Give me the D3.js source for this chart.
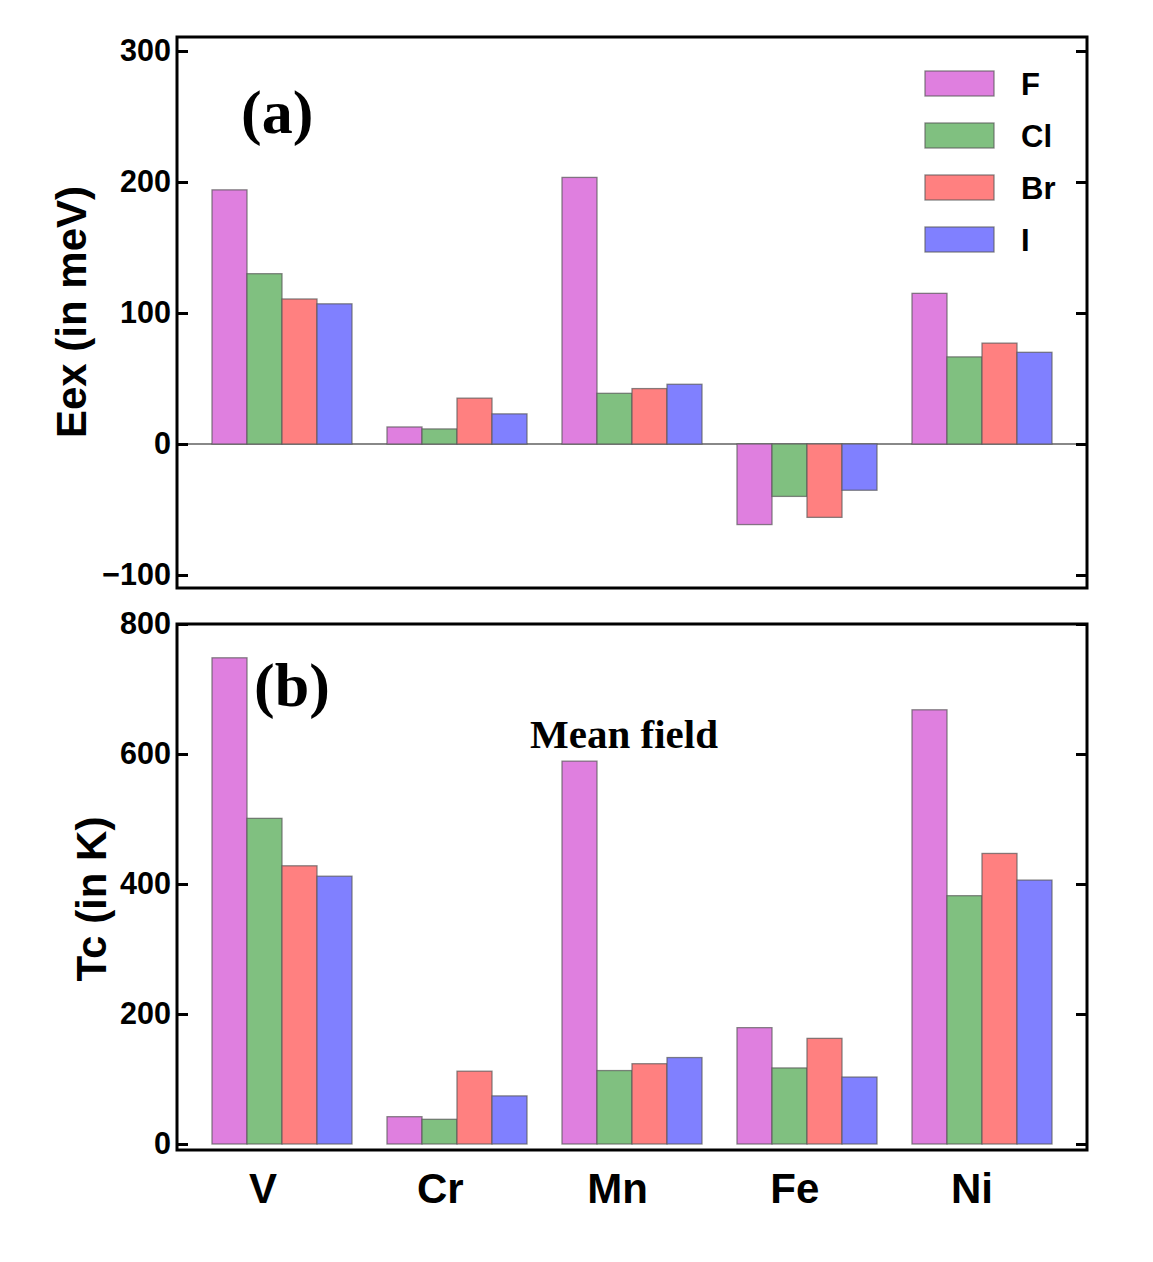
<!DOCTYPE html>
<html>
<head>
<meta charset="utf-8">
<script src="https://cdn.jsdelivr.net/npm/d3@7"></script>
<style>
  body { margin: 0; background: #fff; }
  svg text { font-weight: bold; }
</style>
</head>
<body>
<svg id="chart" width="1153" height="1262"></svg>
<script>
const metals = ['V', 'Cr', 'Mn', 'Fe', 'Ni'];
const halogens = ['F', 'Cl', 'Br', 'I'];
const colors = ['#df7fdf', '#80c080', '#ff8080', '#8080ff'];

// exchange energy (meV), one array per halogen, in metal order
const eexF = [194, 13, 203.5, -61.5, 115];
const eexCl = [130, 11.5, 38.7, -40, 66.5];
const eexBr = [110.7, 35, 42.3, -56, 77];
const eexI = [107, 23, 45.6, -35.3, 70];

// Curie temperature (K)
const tcF = [748, 42, 589, 179, 668];
const tcCl = [501, 38, 113, 117, 382];
const tcBr = [428, 112, 123.5, 162.5, 447];
const tcI = [412, 74, 133, 103, 406];

const eexTicks = [-100, 0, 100, 200, 300];
const tcTicks = [0, 200, 400, 600, 800];

const sans = '"Liberation Sans", Arial, sans-serif';
const serif = '"Liberation Serif", "Times New Roman", serif';

const svg = d3.select('#chart');
const left = 177, right = 1087;

const x0 = d3.scaleBand().domain(metals).range([left, right]).paddingInner(0.2).paddingOuter(0.2);
const x1 = d3.scaleBand().domain(halogens).range([0, x0.bandwidth()]);
// the category names sit a little left of the bar groups
const xLabel = d3.scalePoint().domain(metals).range([263, 972]);

function panel(opts) {
  const { top, bottom, y, ticks, series, title, titleX, titleY, zeroLine } = opts;
  const g = svg.append('g');

  if (zeroLine) {
    g.append('line')
      .attr('x1', left).attr('x2', right)
      .attr('y1', y(0)).attr('y2', y(0))
      .attr('stroke', '#888').attr('stroke-width', 2);
  }

  const rows = metals.map((m, i) => ({ metal: m, values: series.map(s => s[i]) }));
  g.selectAll('.grp')
    .data(rows)
    .enter().append('g')
    .attr('transform', d => `translate(${x0(d.metal)},0)`)
    .selectAll('rect')
    .data(d => d.values.map((v, j) => ({ key: halogens[j], value: v, c: colors[j] })))
    .enter().append('rect')
    .attr('x', d => x1(d.key))
    .attr('width', x1.bandwidth())
    .attr('y', d => y(Math.max(0, d.value)))
    .attr('height', d => Math.abs(y(d.value) - y(0)))
    .attr('fill', d => d.c)
    .attr('stroke', '#555').attr('stroke-opacity', 0.7).attr('stroke-width', 1.3);

  // left axis with labels
  const ax = g.append('g')
    .attr('transform', `translate(${left},0)`)
    .call(d3.axisLeft(y).tickValues(ticks).tickSize(-11).tickPadding(6).tickFormat(d => d < 0 ? '\u2212' + Math.abs(d) : d));
  ax.select('.domain').remove();
  ax.selectAll('line').attr('stroke', '#000').attr('stroke-width', 3);
  ax.selectAll('text').attr('fill', '#000')
    .style('font-size', '30.5px').style('font-family', sans).style('font-weight', 'bold');

  const axr = g.append('g')
    .attr('transform', `translate(${right},0)`)
    .call(d3.axisRight(y).tickValues(ticks).tickSize(-11).tickFormat(''));
  axr.select('.domain').remove();
  axr.selectAll('line').attr('stroke', '#000').attr('stroke-width', 3);

  g.append('rect')
    .attr('x', left).attr('y', top)
    .attr('width', right - left).attr('height', bottom - top)
    .attr('fill', 'none').attr('stroke', '#000').attr('stroke-width', 3);

  g.append('text')
    .attr('transform', `translate(${titleX},${titleY}) rotate(-90)`)
    .attr('text-anchor', 'middle')
    .style('font-family', sans).style('font-size', '42px')
    .text(title);
}

const yTop = d3.scaleLinear().domain([-100, 300]).range([575, 51]);
panel({
  top: 37, bottom: 588, y: yTop, ticks: eexTicks,
  series: [eexF, eexCl, eexBr, eexI],
  title: 'Eex (in meV)', titleX: 86, titleY: 312, zeroLine: true
});

const yBot = d3.scaleLinear().domain([0, 800]).range([1144, 624]);
panel({
  top: 624, bottom: 1150, y: yBot, ticks: tcTicks,
  series: [tcF, tcCl, tcBr, tcI],
  title: 'Tc (in K)', titleX: 106, titleY: 899, zeroLine: false
});

// metal labels below
svg.append('g').selectAll('text')
  .data(metals)
  .enter().append('text')
  .attr('x', d => xLabel(d))
  .attr('y', 1203)
  .attr('text-anchor', 'middle')
  .style('font-family', sans).style('font-size', '42px')
  .text(d => d);

// panel tags
svg.append('text').attr('x', 241).attr('y', 133)
  .style('font-family', serif).style('font-size', '62px').text('(a)');
svg.append('text').attr('x', 254).attr('y', 706)
  .style('font-family', serif).style('font-size', '62px').text('(b)');
svg.append('text').attr('x', 624).attr('y', 748)
  .attr('text-anchor', 'middle')
  .style('font-family', serif).style('font-size', '41px').text('Mean field');

// legend
const legend = svg.append('g').selectAll('g')
  .data(halogens)
  .enter().append('g')
  .attr('transform', (d, i) => `translate(925,${71 + i * 52})`);
legend.append('rect')
  .attr('width', 69).attr('height', 25)
  .attr('fill', (d, i) => colors[i])
  .attr('stroke', '#555').attr('stroke-opacity', 0.7).attr('stroke-width', 1.3);
legend.append('text')
  .attr('x', 96).attr('y', 12.5).attr('dy', '0.36em')
  .style('font-family', sans).style('font-size', '31px')
  .text(d => d);
</script>
</body>
</html>
